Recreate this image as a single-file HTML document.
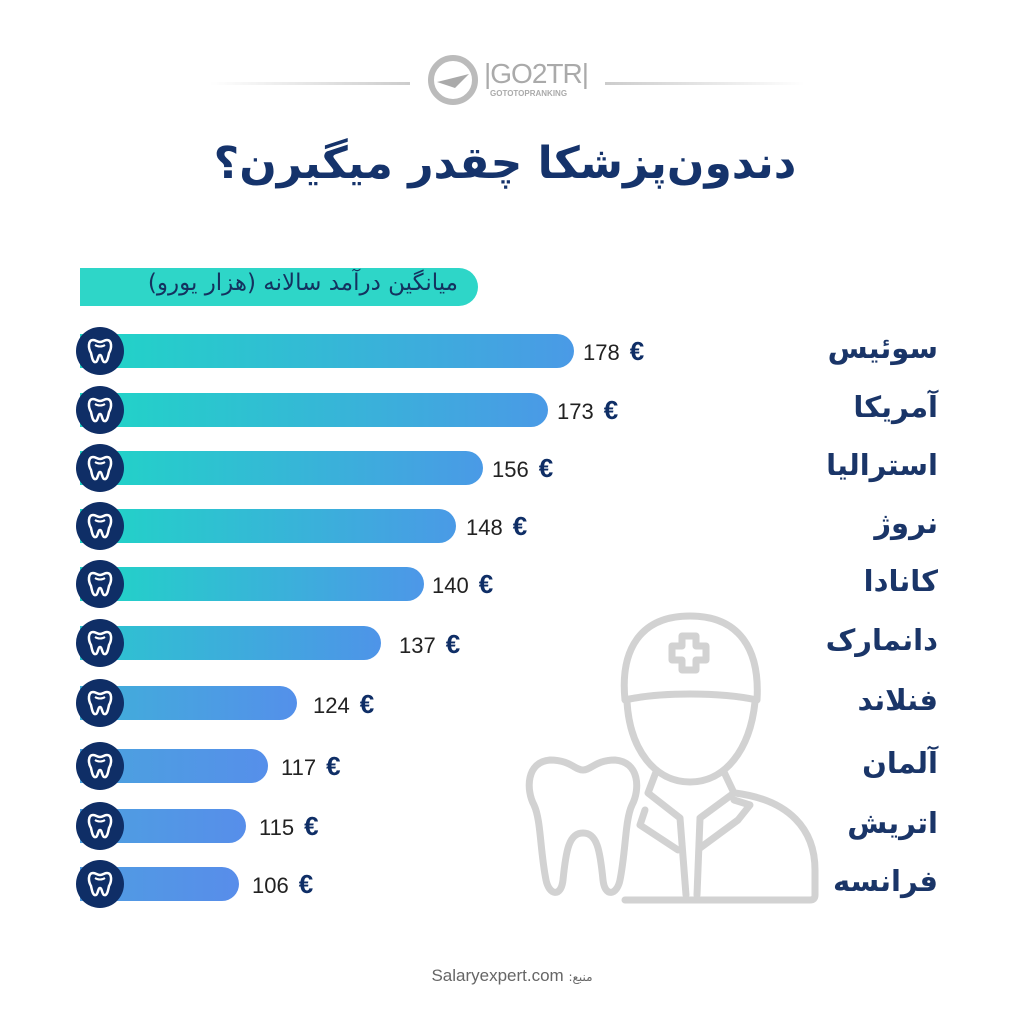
<!DOCTYPE html>
<html><head><meta charset="utf-8">
<style>
body{margin:0;width:1024px;height:1024px;background:#fff;position:relative;overflow:hidden;font-family:"Liberation Sans","DejaVu Sans",sans-serif}
.abs{position:absolute}
.bar{position:absolute;left:80px;height:34px;border-radius:0 17px 17px 0;background:linear-gradient(90deg,#1fd6c6,#4a9ae6)}
.circ{position:absolute;left:76px;width:48px;height:48px;border-radius:50%;background:#0f2e66;display:flex;align-items:center;justify-content:center}
.val{position:absolute;font-size:22px;color:#222;white-space:nowrap}
.val b{color:#0f2e66;font-size:26px;margin-left:10px}
.cty{position:absolute;right:86px;font-size:29px;font-weight:bold;color:#1a3568;font-family:"DejaVu Sans",sans-serif;direction:rtl}
</style></head><body>
<div class="abs" style="left:210px;top:82px;width:200px;height:3px;background:linear-gradient(90deg,#fff,#ccc)"></div>
<div class="abs" style="left:605px;top:82px;width:200px;height:3px;background:linear-gradient(90deg,#ccc,#fff)"></div>
<svg class="abs" style="left:425px;top:52px" width="60" height="56"><circle cx="28" cy="28" r="22" fill="none" stroke="#bbb" stroke-width="6"/><path d="M12 30 L44 22 L30 36 Z" fill="#aaa"/></svg>
<div class="abs" style="left:484px;top:58px;font-size:28px;color:#aaa;letter-spacing:-1px">|GO2TR|</div>
<div class="abs" style="left:490px;top:89px;font-size:8px;color:#aaa;font-weight:bold">GOTOTOPRANKING</div>
<div class="abs" style="left:0;width:1010px;top:138px;text-align:center;font-size:44px;font-weight:bold;color:#15336b;font-family:'DejaVu Sans',sans-serif;direction:rtl">دندون‌پزشکا چقدر میگیرن؟</div>
<div class="abs" style="left:80px;top:268px;width:398px;height:38px;background:#2ed6c8;border-radius:0 19px 19px 0"></div>
<div class="abs" style="left:96px;top:270px;width:362px;font-size:23px;color:#14325f;direction:rtl;text-align:right;font-family:'DejaVu Sans',sans-serif;white-space:nowrap">میانگین درآمد سالانه (هزار یورو)</div>

<div class="bar" style="top:334px;width:494px"></div>
<div class="bar" style="top:393px;width:468px"></div>
<div class="bar" style="top:451px;width:403px"></div>
<div class="bar" style="top:509px;width:376px"></div>
<div class="bar" style="top:567px;width:344px;background:linear-gradient(90deg,#1fd6c6,#4d97e8)"></div>
<div class="bar" style="top:626px;width:301px;background:linear-gradient(90deg,#2bc6cf,#4e94e8)"></div>
<div class="bar" style="top:686px;width:217px;background:linear-gradient(90deg,#3fb0d9,#5490ea)"></div>
<div class="bar" style="top:749px;width:188px;background:linear-gradient(90deg,#4aa3de,#568fea)"></div>
<div class="bar" style="top:809px;width:166px;background:linear-gradient(90deg,#4da0e0,#578eea)"></div>
<div class="bar" style="top:867px;width:159px;background:linear-gradient(90deg,#4f9de2,#588dea)"></div>

<svg width="0" height="0" style="position:absolute"><defs><symbol id="t" viewBox="0 0 30 30"><path d="M8 4 C3 4 3 12 6 17 C7 22 8 27 11 26 C13 25 13 19 15 19 C17 19 17 25 19 26 C22 27 23 22 24 17 C27 12 27 4 22 4 C19 4 18 6 15 6 C12 6 11 4 8 4 Z" fill="none" stroke="#fff" stroke-width="2.5"/><path d="M10 9 C13 11 17 11 20 9" fill="none" stroke="#fff" stroke-width="2"/></symbol></defs></svg>
<div class="circ" style="top:327px"><svg width="30" height="30"><use href="#t"/></svg></div>
<div class="circ" style="top:386px"><svg width="30" height="30"><use href="#t"/></svg></div>
<div class="circ" style="top:444px"><svg width="30" height="30"><use href="#t"/></svg></div>
<div class="circ" style="top:502px"><svg width="30" height="30"><use href="#t"/></svg></div>
<div class="circ" style="top:560px"><svg width="30" height="30"><use href="#t"/></svg></div>
<div class="circ" style="top:619px"><svg width="30" height="30"><use href="#t"/></svg></div>
<div class="circ" style="top:679px"><svg width="30" height="30"><use href="#t"/></svg></div>
<div class="circ" style="top:742px"><svg width="30" height="30"><use href="#t"/></svg></div>
<div class="circ" style="top:802px"><svg width="30" height="30"><use href="#t"/></svg></div>
<div class="circ" style="top:860px"><svg width="30" height="30"><use href="#t"/></svg></div>

<div class="val" style="left:583px;top:336px">178<b>€</b></div>
<div class="val" style="left:557px;top:395px">173<b>€</b></div>
<div class="val" style="left:492px;top:453px">156<b>€</b></div>
<div class="val" style="left:466px;top:511px">148<b>€</b></div>
<div class="val" style="left:432px;top:569px">140<b>€</b></div>
<div class="val" style="left:399px;top:629px">137<b>€</b></div>
<div class="val" style="left:313px;top:689px">124<b>€</b></div>
<div class="val" style="left:281px;top:751px">117<b>€</b></div>
<div class="val" style="left:259px;top:811px">115<b>€</b></div>
<div class="val" style="left:252px;top:869px">106<b>€</b></div>

<div class="cty" style="top:331px">سوئیس</div>
<div class="cty" style="top:390px">آمریکا</div>
<div class="cty" style="top:448px">استرالیا</div>
<div class="cty" style="top:506px">نروژ</div>
<div class="cty" style="top:564px">کانادا</div>
<div class="cty" style="top:623px">دانمارک</div>
<div class="cty" style="top:683px">فنلاند</div>
<div class="cty" style="top:746px">آلمان</div>
<div class="cty" style="top:806px">اتریش</div>
<div class="cty" style="top:864px">فرانسه</div>

<svg class="abs" style="left:0;top:0" width="1024" height="1024"><g fill="none" stroke="#d2d2d2" stroke-width="7" stroke-linejoin="round" stroke-linecap="round">
<path d="M625 700 C620 650 640 616 690 616 C740 616 760 650 757 700 C720 692 660 692 625 700 Z"/>
<path d="M682 636 h14 v10 h10 v14 h-10 v10 h-14 v-10 h-10 v-14 h10 Z"/>
<path d="M627 702 C630 750 655 782 690 782 C725 782 750 750 755 702"/>
<path d="M656 772 L648 793 L680 818 L686 895"/>
<path d="M724 772 L734 793 L700 818 L697 895"/>
<path d="M645 810 L640 825 L678 850"/>
<path d="M734 800 L750 805 L738 820 L700 848"/>
<path d="M735 793 C790 800 815 830 815 870 L815 895 Q815 900 810 900 L625 900"/>
<path d="M550 760 C570 760 575 770 583 770 C591 770 596 760 615 760 C640 762 640 790 632 805 C625 820 626 850 620 880 C617 895 605 898 603 880 C600 850 597 833 583 833 C569 833 566 850 563 880 C561 898 549 895 546 880 C540 850 541 820 534 805 C526 790 526 762 550 760 Z"/>
</g></svg>

<div class="abs" style="left:0;width:1024px;top:966px;text-align:center;font-size:17px;color:#666">Salaryexpert.com <span style="font-size:12px;font-family:'DejaVu Sans',sans-serif">:منبع</span></div>
</body></html>
